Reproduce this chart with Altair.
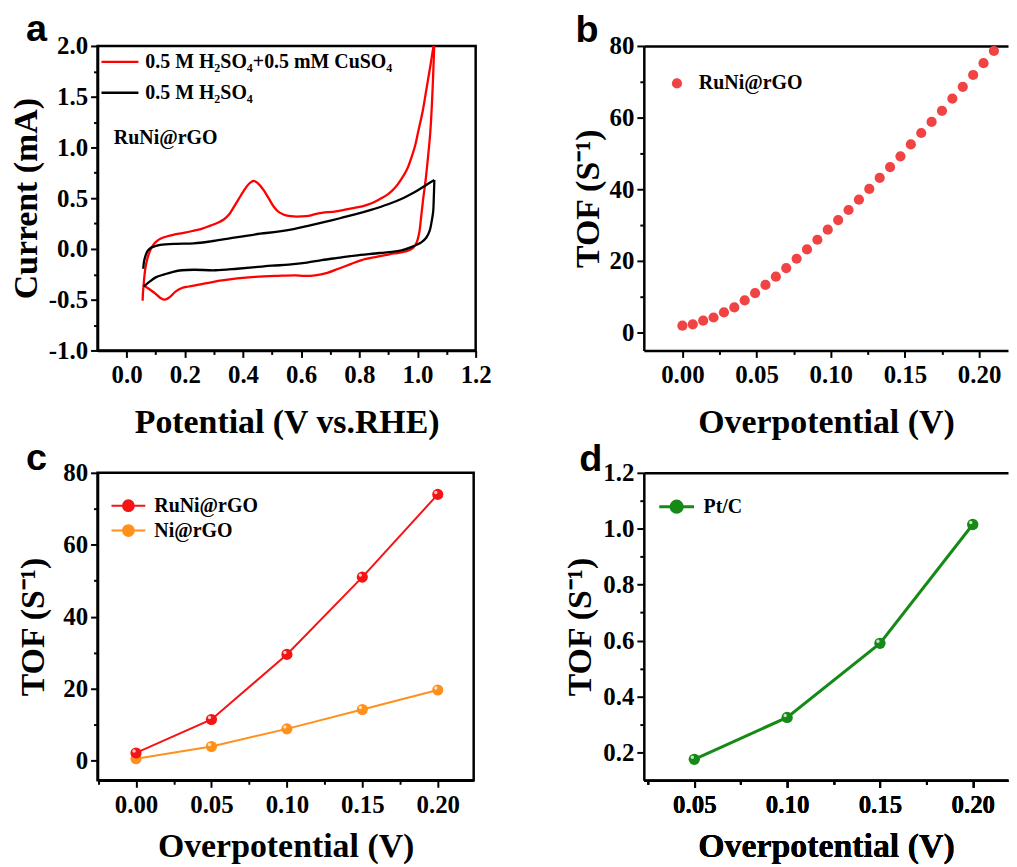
import altair as alt
import pandas as pd

SERIF = "Liberation Serif"
SANS = "Liberation Sans"

# ---------------- panel a : cyclic voltammograms ----------------
LAB_CU = "0.5 M H₂SO₄+0.5 mM CuSO₄"
LAB_H = "0.5 M H₂SO₄"
NOTE_A = "RuNi@rGO"

red_fwd_x = [0.055, 0.056, 0.058, 0.061, 0.065, 0.070, 0.076, 0.085, 0.094, 0.105, 0.116, 0.140,
             0.162, 0.200, 0.231, 0.260, 0.288, 0.315, 0.334, 0.352, 0.368, 0.385, 0.402, 0.420,
             0.436, 0.450, 0.471, 0.490, 0.505, 0.520, 0.539, 0.557, 0.574, 0.600, 0.625, 0.645,
             0.671, 0.720, 0.773, 0.810, 0.842, 0.870, 0.899, 0.925, 0.945, 0.965, 0.979, 0.992,
             1.002, 1.018, 1.031, 1.044, 1.055, 1.058]
red_fwd_y = [-0.51, -0.44, -0.37, -0.27, -0.18, -0.11, -0.05, 0.01, 0.05, 0.08, 0.10, 0.125,
             0.14, 0.16, 0.18, 0.20, 0.23, 0.26, 0.29, 0.34, 0.41, 0.49, 0.57, 0.64,
             0.67, 0.65, 0.58, 0.49, 0.42, 0.37, 0.34, 0.325, 0.32, 0.32, 0.325, 0.34,
             0.355, 0.37, 0.40, 0.42, 0.45, 0.49, 0.54, 0.61, 0.69, 0.79, 0.90, 1.02,
             1.15, 1.36, 1.58, 1.80, 2.00, 2.06]
red_rev_x = [1.058, 1.055, 1.050, 1.044, 1.036, 1.028, 1.019, 1.012, 1.006, 0.998, 0.985, 0.960,
             0.930, 0.900, 0.855, 0.808, 0.770, 0.728, 0.690, 0.648, 0.610, 0.579, 0.520, 0.442,
             0.380, 0.328, 0.270, 0.214, 0.190, 0.168, 0.148, 0.131, 0.115, 0.099, 0.080, 0.065,
             0.057]
red_rev_y = [2.06, 1.80, 1.45, 1.15, 0.90, 0.68, 0.48, 0.30, 0.16, 0.07, 0.01, -0.025,
             -0.04, -0.055, -0.08, -0.11, -0.15, -0.195, -0.235, -0.26, -0.265, -0.26, -0.265, -0.275,
             -0.29, -0.31, -0.34, -0.37, -0.385, -0.42, -0.475, -0.50, -0.48, -0.44, -0.40, -0.37,
             -0.35]
blk_fwd_x = [0.057, 0.060, 0.065, 0.072, 0.082, 0.100, 0.116, 0.170, 0.231, 0.290, 0.345, 0.400,
             0.459, 0.520, 0.574, 0.620, 0.671, 0.730, 0.785, 0.840, 0.899, 0.950, 0.991, 1.030,
             1.058]
blk_fwd_y = [-0.195, -0.12, -0.065, -0.02, 0.01, 0.03, 0.04, 0.05, 0.055, 0.075, 0.10, 0.125,
             0.15, 0.17, 0.195, 0.225, 0.26, 0.30, 0.34, 0.385, 0.44, 0.50, 0.56, 0.63,
             0.68]
blk_rev_x = [1.058, 1.056, 1.054, 1.048, 1.042, 1.030, 1.013, 0.980, 0.945, 0.870, 0.785, 0.720,
             0.671, 0.620, 0.557, 0.500, 0.442, 0.380, 0.305, 0.231, 0.190, 0.160, 0.130, 0.100,
             0.080, 0.059]
blk_rev_y = [0.68, 0.50, 0.37, 0.26, 0.18, 0.11, 0.065, 0.02, -0.015, -0.04, -0.065, -0.09,
             -0.11, -0.135, -0.155, -0.165, -0.18, -0.195, -0.21, -0.205, -0.21, -0.225, -0.25, -0.28,
             -0.32, -0.37]
a_x_ticks = [0.0, 0.1, 0.2, 0.3, 0.4, 0.5, 0.6, 0.7, 0.8, 0.9, 1.0, 1.1, 1.2]
a_y_ticks = [-1.0, -0.75, -0.5, -0.25, 0.0, 0.25, 0.5, 0.75, 1.0, 1.25, 1.5, 1.75, 2.0]

# ---------------- panel b : TOF scatter ----------------
LAB_RUNI = "RuNi@rGO"
LAB_NI = "Ni@rGO"
LAB_PT = "Pt/C"
b_eta = [0.000, 0.007, 0.014, 0.021, 0.028, 0.035, 0.042, 0.049, 0.056, 0.063, 0.070,
         0.077, 0.084, 0.091, 0.098, 0.105, 0.112, 0.119, 0.126, 0.133, 0.140, 0.147,
         0.154, 0.161, 0.168, 0.175, 0.182, 0.189, 0.196, 0.203, 0.210]
b_tof = [1.9, 2.3, 3.3, 4.2, 5.6, 7.0, 9.0, 11.0, 13.3, 15.6, 18.0, 20.6, 23.2, 25.9, 28.7,
         31.4, 34.2, 37.1, 40.1, 43.2, 46.2, 49.2, 52.5, 55.7, 58.8, 61.9, 65.3, 68.6, 71.9,
         75.2, 78.6]
b_x_ticks = [0.0, 0.025, 0.05, 0.075, 0.1, 0.125, 0.15, 0.175, 0.2]
b_y_ticks = [0, 10, 20, 30, 40, 50, 60, 70, 80]

# ---------------- panel c ----------------
c_eta = [0.0, 0.05, 0.10, 0.15, 0.20]
c_runi = [2.1, 11.4, 29.5, 51.0, 74.0]
c_ni = [0.5, 3.9, 8.8, 14.2, 19.6]
c_x_ticks = [-0.025, 0.0, 0.025, 0.05, 0.075, 0.1, 0.125, 0.15, 0.175, 0.2]
c_y_ticks = [0, 10, 20, 30, 40, 50, 60, 70, 80]

# ---------------- panel d ----------------
d_eta = [0.05, 0.10, 0.15, 0.20]
d_ptc = [0.175, 0.325, 0.59, 1.015]
d_x_ticks = [0.025, 0.05, 0.075, 0.1, 0.125, 0.15, 0.175, 0.2]
d_y_ticks = [0.2, 0.3, 0.4, 0.5, 0.6, 0.7, 0.8, 0.9, 1.0, 1.1, 1.2]

RED = "#FF0000"
BLACK = "#000000"
BRED = "#F04444"
CRED = "#F41414"
ORANGE = "#FF901C"
GREEN = "#168A16"

BALL = "M-1,0L1,0M-0.32,0A0.32,0.32,0,1,1,0.32,0A0.32,0.32,0,1,1,-0.32,0Z"
LONGLINE = "M-1.16,0L1.16,0"


def axis(values, step, fmt, title, orient, tpad, lpad=3, hyphen=False):
    test = f"abs(datum.value/{step} - round(datum.value/{step})) < 0.0001"
    if hyphen:
        lab = f"(datum.value < 0 ? '-' : '') + format(abs(datum.value), '{fmt}')"
    else:
        lab = f"format(datum.value, '{fmt}')"
    return alt.Axis(
        values=values, orient=orient, title=title, grid=False,
        labelExpr=f"{test} ? {lab} : ''",
        tickSize={"condition": {"test": test, "value": 7}, "value": 4},
        tickWidth=2, tickColor="black", domainColor="black", domainWidth=2.5,
        labelFont=SERIF, labelFontSize=25, labelFontWeight="bold", labelColor="black",
        labelPadding=lpad, labelFlush=False, labelOverlap=False, labelBound=False,
        titleFont=SERIF, titleFontSize=34, titleFontWeight="bold", titleColor="black",
        titlePadding=tpad)


def xaxis(values, step, fmt, title, tpad=18):
    return axis(values, step, fmt, title, "bottom", tpad, lpad=5)


top_axis = alt.Axis(orient="top", labels=False, ticks=False, title=None, grid=False,
                    domainColor="black", domainWidth=2.5)


def letter(t, dx, dy):
    return alt.TitleParams(t, anchor="start", frame="group", font=SANS, fontSize=38,
                           fontWeight="bold", color="black", baseline="alphabetic",
                           offset=0, dx=dx, dy=dy)


def ball_legend(x, y, col, size, sw):
    return alt.Legend(title=None, orient="none", legendX=x, legendY=y, symbolType=BALL,
                      symbolSize=size, symbolStrokeWidth=sw, symbolStrokeColor=col,
                      symbolFillColor=col, symbolOpacity=1,
                      labelFont=SERIF, labelFontSize=20, labelFontWeight="bold",
                      labelColor="black", labelOffset=8, labelLimit=400)


# ---------- panel a ----------
rows = []
for series, seg, xs, ys in [(LAB_CU, "r1", red_fwd_x, red_fwd_y), (LAB_CU, "r2", red_rev_x, red_rev_y),
                            (LAB_H, "k1", blk_fwd_x, blk_fwd_y), (LAB_H, "k2", blk_rev_x, blk_rev_y)]:
    for i, (x, y) in enumerate(zip(xs, ys)):
        rows.append({"x": x, "y": y, "series": series, "seg": seg, "idx": i})
df_a = pd.DataFrame(rows)
df_note = pd.DataFrame({"x": [-0.044], "y": [1.09], "t": [NOTE_A]})

a_xs = alt.Scale(domain=[-0.1, 1.2], nice=False, zero=False)
a_ys = alt.Scale(domain=[-1.0, 2.0], nice=False, zero=False)
a_xa = xaxis(a_x_ticks, 0.2, ".1f", "Potential (V vs.RHE)")
a_ya = axis(a_y_ticks, 0.5, ".1f", "Current (mA)", "left", 5, hyphen=True)

cv = alt.Chart(df_a).mark_line(strokeWidth=2.3, interpolate="catmull-rom", clip=True).encode(
    x=alt.X("x:Q", scale=a_xs, axis=a_xa), y=alt.Y("y:Q", scale=a_ys, axis=a_ya),
    color=alt.Color("series:N", scale=alt.Scale(domain=[LAB_CU, LAB_H], range=[RED, BLACK]),
                    legend=alt.Legend(title=None, orient="none", legendX=5, legendY=-1.5,
                                      symbolType=LONGLINE, symbolSize=1024, symbolStrokeWidth=2.5,
                                      labelFont=SERIF, labelFontSize=20, labelFontWeight="bold",
                                      labelColor="black", labelOffset=8, rowPadding=3,
                                      labelLimit=400)),
    detail="seg:N", order="idx:Q")
note = alt.Chart(df_note).mark_text(align="left", baseline="middle", font=SERIF, fontSize=20,
                                     fontWeight="bold", color="black").encode(
    x=alt.X("x:Q", scale=a_xs, axis=a_xa), y=alt.Y("y:Q", scale=a_ys, axis=a_ya), text="t:N")
panel_a = alt.layer(cv, note).properties(
    width=380, height=306, title=letter("a", -72, 45.5),
    view=alt.ViewBackground(stroke="black", strokeWidth=2.5))

# ---------- panel b ----------
df_b = pd.DataFrame({"eta": b_eta, "tof": b_tof, "series": LAB_RUNI})
bx = alt.Scale(domain=[-0.026, 0.2195], nice=False, zero=False)
by = alt.Scale(domain=[-5, 80], nice=False, zero=False)
b_ya = axis(b_y_ticks, 20, "d", "TOF (S⁻¹)", "left", 4)
pts_b = alt.Chart(df_b).mark_point(filled=True, size=105, opacity=1).encode(
    x=alt.X("eta:Q", scale=bx, axis=xaxis(b_x_ticks, 0.05, ".2f", "Overpotential (V)")),
    y=alt.Y("tof:Q", scale=by, axis=b_ya),
    color=alt.Color("series:N", scale=alt.Scale(domain=[LAB_RUNI], range=[BRED]),
                    legend=alt.Legend(title=None, orient="none", legendX=23.3, legendY=27.7,
                                      symbolType="circle", symbolSize=105,
                                      labelFont=SERIF, labelFontSize=20, labelFontWeight="bold",
                                      labelColor="black", labelOffset=12)))
frame_b = alt.Chart(df_b).mark_point(opacity=0).encode(
    x=alt.X("eta:Q", scale=bx, axis=top_axis), y=alt.Y("tof:Q", scale=by, axis=b_ya))
panel_b = alt.layer(pts_b, frame_b).resolve_axis(x="independent").properties(
    width=366, height=306, title=letter("b", -68.7, 46.5))

# ---------- panel c ----------
df_cr = pd.DataFrame({"eta": c_eta, "tof": c_runi, "series": LAB_RUNI})
df_cn = pd.DataFrame({"eta": c_eta, "tof": c_ni, "series": LAB_NI})
cxs = alt.Scale(domain=[-0.0255, 0.2238], nice=False, zero=False)
cys = alt.Scale(domain=[-5.5, 80], nice=False, zero=False)
cx_ax = xaxis(c_x_ticks, 0.05, ".2f", "Overpotential (V)", 13)
cy_ax = axis(c_y_ticks, 20, "d", "TOF (S⁻¹)", "left", 12)


def c_layers(df, col, ly):
    ln = alt.Chart(df).mark_line(strokeWidth=2, color=col).encode(
        x=alt.X("eta:Q", scale=cxs, axis=cx_ax), y=alt.Y("tof:Q", scale=cys, axis=cy_ax))
    pt = alt.Chart(df).mark_point(filled=True, size=125, opacity=1).encode(
        x=alt.X("eta:Q", scale=cxs, axis=cx_ax), y=alt.Y("tof:Q", scale=cys, axis=cy_ax),
        color=alt.Color("series:N", scale=alt.Scale(domain=list(df["series"].unique()), range=[col]),
                        legend=ball_legend(13, ly, col, 1156, 2)))
    hl = alt.Chart(df).mark_point(filled=True, size=12, opacity=0.75, color="white",
                                  xOffset=-2, yOffset=-2).encode(
        x=alt.X("eta:Q", scale=cxs, axis=cx_ax), y=alt.Y("tof:Q", scale=cys, axis=cy_ax))
    return [ln, pt, hl]


panel_c = alt.layer(*c_layers(df_cn, ORANGE, 40), *c_layers(df_cr, CRED, 15)).resolve_scale(
    color="independent").properties(
    width=378, height=309, title=letter("c", -72, 47),
    view=alt.ViewBackground(stroke="black", strokeWidth=2.5))

# ---------- panel d ----------
df_d = pd.DataFrame({"eta": d_eta, "tof": d_ptc, "series": LAB_PT})
dxs = alt.Scale(domain=[0.0228, 0.219], nice=False, zero=False)
dys = alt.Scale(domain=[0.1, 1.2], nice=False, zero=False)
d_xa = xaxis(d_x_ticks, 0.05, ".2f", "Overpotential (V)", 13)
d_ya = axis(d_y_ticks, 0.2, ".1f", "TOF (S⁻¹)", "left", 5)
line_d = alt.Chart(df_d).mark_line(strokeWidth=3, color=GREEN).encode(
    x=alt.X("eta:Q", scale=dxs, axis=d_xa), y=alt.Y("tof:Q", scale=dys, axis=d_ya))
pts_d = alt.Chart(df_d).mark_point(filled=True, size=130, opacity=1).encode(
    x=alt.X("eta:Q", scale=dxs, axis=d_xa), y=alt.Y("tof:Q", scale=dys, axis=d_ya),
    color=alt.Color("series:N", scale=alt.Scale(domain=[LAB_PT], range=[GREEN]),
                    legend=ball_legend(14, 15, GREEN, 1225, 3)))
hl_d = alt.Chart(df_d).mark_point(filled=True, size=12, opacity=0.75, color="white",
                                  xOffset=-2, yOffset=-2).encode(
    x=alt.X("eta:Q", scale=dxs, axis=d_xa), y=alt.Y("tof:Q", scale=dys, axis=d_ya))
frame_d = alt.Chart(df_d).mark_point(opacity=0).encode(
    x=alt.X("eta:Q", scale=dxs, axis=top_axis), y=alt.Y("tof:Q", scale=dys, axis=d_ya))
panel_d = alt.layer(line_d, pts_d, hl_d, frame_d).resolve_axis(x="independent").properties(
    width=366, height=309, title=letter("d", -65, 48))

chart = alt.concat(panel_a, panel_b, panel_c, panel_d, columns=2,
                   spacing={"row": 123, "column": 169}, bounds="flush").resolve_scale(
    color="independent")
chart = chart.properties(padding={"left": 0, "top": 0, "right": 0, "bottom": 0},
                         background="white").configure_view(stroke="transparent")

chart.save("out.html", embed_options={"renderer": "svg", "actions": False})
